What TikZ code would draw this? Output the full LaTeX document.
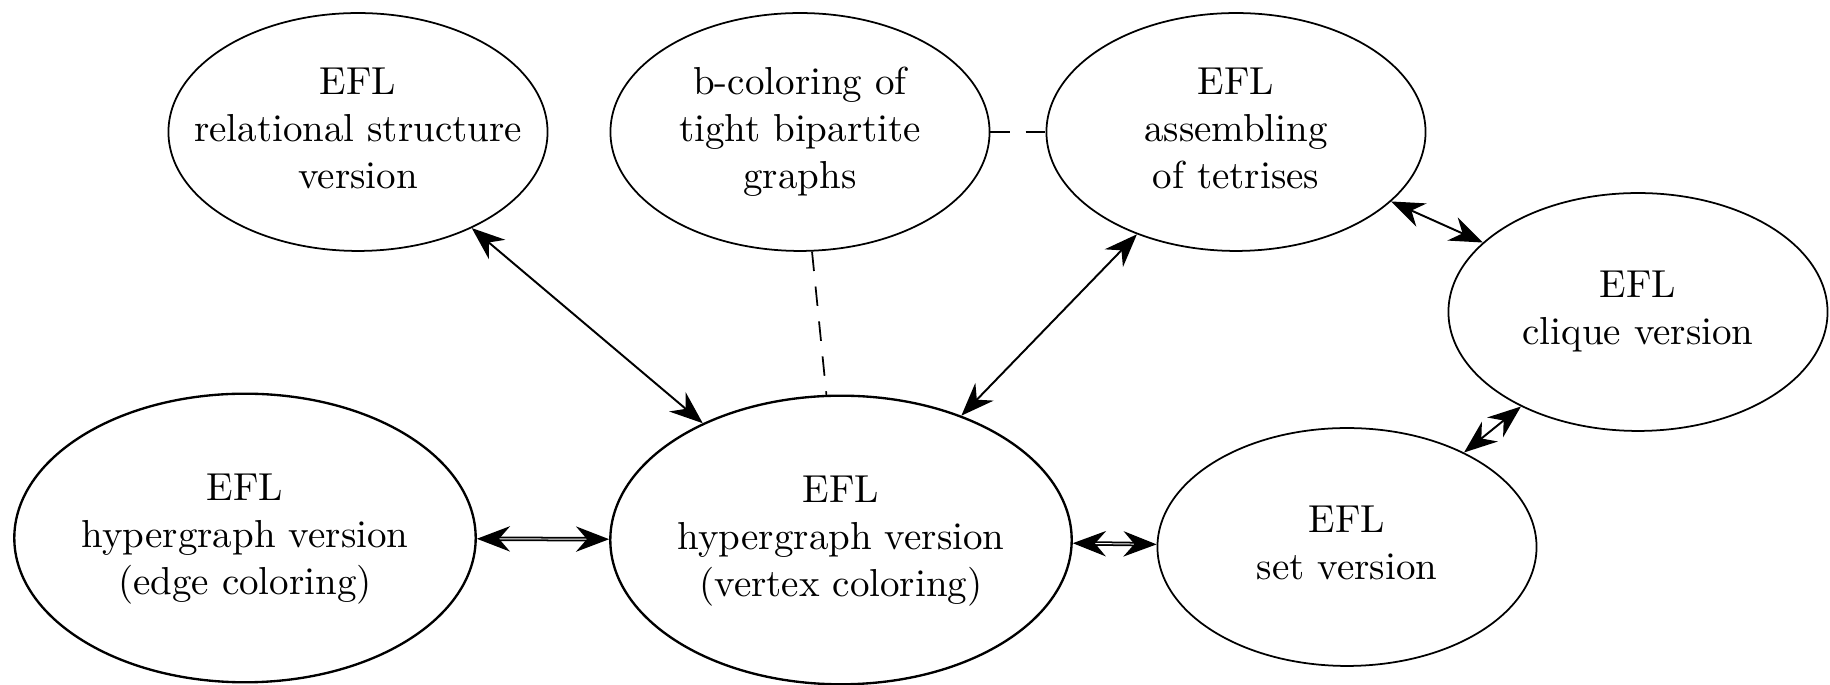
\documentclass[tikz,border=0pt]{standalone}
\usetikzlibrary{arrows.meta,shapes.geometric}
\newcommand\elltext[1]{\makebox[0pt]{\begin{tabular}{@{}c@{}}#1\end{tabular}}}
\begin{document}
\begin{tikzpicture}[x=0.2564pt,y=-0.2564pt,
  ell/.style={ellipse, draw, line width=0.45pt, inner sep=0pt, minimum width=97.2pt, minimum height=61pt},
  bigell/.style={ellipse, draw, semithick, inner sep=0pt, minimum width=118.3pt, minimum height=74pt},
  tip/.tip={Stealth[length=8.5pt,width=6.5pt,inset=2.8pt]},
  biarrow/.style={tip-tip, line width=0.5pt},
  dblarrow/.style={tip-tip, line width=0.45pt, double, double distance=0.25pt},
  dashline/.style={line width=0.45pt, dash pattern=on 5pt off 4pt}
]
\useasboundingbox (0,0) rectangle (1830,685);

\node[ell] (rel) at (358,132) {\elltext{EFL\\relational structure\\version}};
\node[ell] (bcol) at (800,132) {\elltext{b-coloring of\\tight bipartite\\graphs}};
\node[ell] (asm) at (1236,132) {\elltext{EFL\\assembling\\of tetrises}};
\node[ell] (clq) at (1638,312) {\elltext{EFL\\clique version}};
\node[ell] (set) at (1347,547) {\elltext{EFL\\set version}};
\node[bigell] (vtx) at (841,540) {\elltext{EFL\\hypergraph version\\(vertex coloring)}};
\node[bigell] (edg) at (245,538) {\elltext{EFL\\hypergraph version\\(edge coloring)}};

\draw[biarrow] (rel) -- (vtx);
\draw[biarrow] (asm) -- (vtx);
\draw[biarrow] (asm) -- (clq);
\draw[biarrow] (clq) -- (set);
\draw[dblarrow] (edg) -- (vtx);
\draw[dblarrow] (vtx) -- (set);
\draw[dashline] (bcol) -- (vtx);
\draw[dashline] (bcol) -- (asm);
\end{tikzpicture}
\end{document}
